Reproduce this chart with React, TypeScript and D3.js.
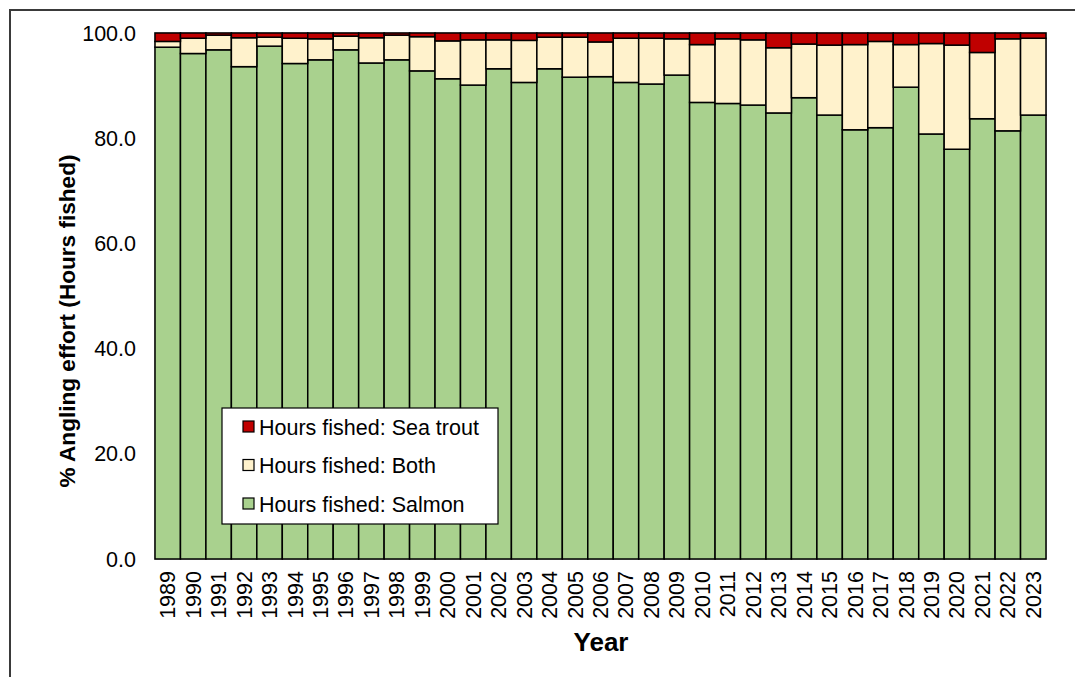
import * as d3 from "d3";
import React from "react";

const years = [
  "1989", "1990", "1991", "1992", "1993", "1994", "1995", "1996", "1997", "1998",
  "1999", "2000", "2001", "2002", "2003", "2004", "2005", "2006", "2007", "2008",
  "2009", "2010", "2011", "2012", "2013", "2014", "2015", "2016", "2017", "2018",
  "2019", "2020", "2021", "2022", "2023",
];

// % of hours fished
const salmon = [
  97.3, 96.1, 96.8, 93.6, 97.5, 94.2, 94.9, 96.8, 94.3, 94.9,
  92.8, 91.3, 90.1, 93.2, 90.6, 93.2, 91.6, 91.7, 90.6, 90.3,
  92.0, 86.8, 86.6, 86.3, 84.8, 87.7, 84.4, 81.6, 82.0, 89.7,
  80.8, 77.9, 83.7, 81.4, 84.4,
];
const both = [
  1.1, 2.9, 2.8, 5.5, 1.7, 4.8, 4.0, 2.6, 4.8, 4.7,
  6.5, 7.2, 8.6, 5.5, 8.0, 6.0, 7.6, 6.6, 8.4, 8.7,
  6.9, 11.0, 12.3, 12.4, 12.4, 10.2, 13.3, 16.2, 16.4, 8.1,
  17.2, 19.8, 12.6, 17.5, 14.6,
];
const seaTrout = [
  1.6, 1.0, 0.4, 0.9, 0.8, 1.0, 1.1, 0.6, 0.9, 0.4,
  0.7, 1.5, 1.3, 1.3, 1.4, 0.8, 0.8, 1.7, 1.0, 1.0,
  1.1, 2.2, 1.1, 1.3, 2.8, 2.1, 2.3, 2.2, 1.6, 2.2,
  2.0, 2.3, 3.7, 1.1, 1.0,
];

const yTicks = [0, 20, 40, 60, 80, 100];

const seriesNames = ["Hours fished: Salmon", "Hours fished: Both", "Hours fished: Sea trout"];
const seriesColors = ["#A9D18E", "#FFF2CC", "#C00000"];

const W = 1075;
const H = 677;
const margin = { left: 155, right: 1046, top: 33, bottom: 559 };
const font = "'Liberation Sans', Arial, sans-serif";

export default function App() {
  const rows = years.map((y, i) => ({ year: y, s: salmon[i], b: both[i], t: seaTrout[i] }));
  const stack = d3.stack<any>().keys(["s", "b", "t"])(rows);

  const x = d3.scaleBand().domain(years).range([margin.left, margin.right]).padding(0);
  const y = d3.scaleLinear().domain([0, 100]).range([margin.bottom, margin.top]);

  const legendItems = [2, 1, 0];

  return (
    <svg
      width={W}
      height={H}
      style={{ position: "absolute", left: 0, top: 0, background: "#fff" }}
      fontFamily={font}
    >
      {/* outer frame, runs off the page on right and bottom */}
      <rect x={10} y={10} width={W + 20} height={H + 20} fill="#fff" stroke="#3a3a3a" strokeWidth={2} />

      <rect
        x={margin.left}
        y={margin.top}
        width={margin.right - margin.left}
        height={margin.bottom - margin.top}
        fill="none"
        stroke="#a6a6a6"
        strokeWidth={1.5}
      />

      {stack.map((layer, li) => (
        <g key={li} fill={seriesColors[li]}>
          {layer.map((d: any, i: number) => (
            <rect
              key={i}
              x={x(years[i])}
              y={y(d[1])}
              width={x.bandwidth()}
              height={y(d[0]) - y(d[1])}
              stroke="#000"
              strokeWidth={1.5}
            />
          ))}
        </g>
      ))}

      {/* y tick labels */}
      {yTicks.map((t) => (
        <text key={t} x={136} y={y(t)} dy="0.35em" textAnchor="end" fontSize={21.5} fill="#000">
          {t.toFixed(1)}
        </text>
      ))}

      {/* x tick labels */}
      {years.map((yr) => (
        <text
          key={yr}
          transform={`translate(${x(yr)! + x.bandwidth() / 2},571) rotate(-90)`}
          dy="0.35em"
          textAnchor="end"
          fontSize={21.5}
          fill="#000"
        >
          {yr}
        </text>
      ))}

      <text
        transform="translate(67,321) rotate(-90)"
        dy="0.35em"
        textAnchor="middle"
        fontSize={22.6}
        fontWeight="bold"
      >
        % Angling effort (Hours fished)
      </text>
      <text x={601} y={651} textAnchor="middle" fontSize={26} fontWeight="bold">
        Year
      </text>

      {/* legend */}
      <g>
        <rect x={222} y={408} width={276} height={116} fill="#fff" stroke="#000" strokeWidth={1.2} />
        {legendItems.map((si, k) => (
          <g key={si} transform={`translate(243,${427 + k * 38.5})`}>
            <rect x={0} y={-6} width={11} height={11} fill={seriesColors[si]} stroke="#000" strokeWidth={1.2} />
            <text x={16} y={0} dy="0.35em" fontSize={21.5} fill="#000">
              {seriesNames[si]}
            </text>
          </g>
        ))}
      </g>
    </svg>
  );
}
